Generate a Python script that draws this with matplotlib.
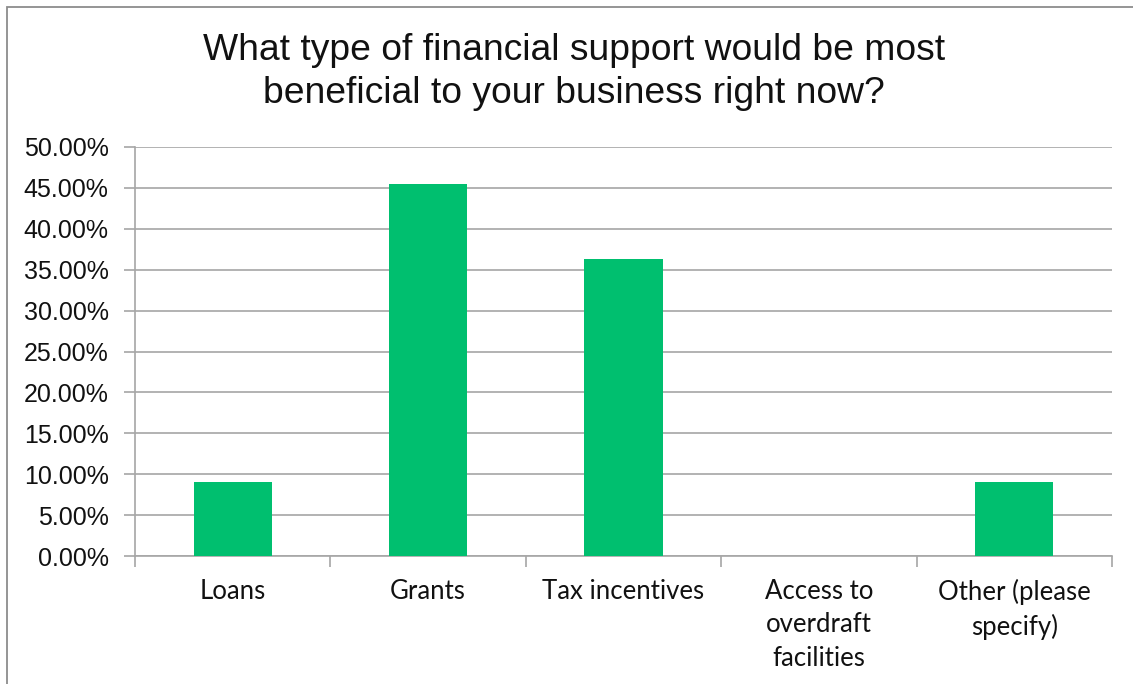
import matplotlib
matplotlib.use("Agg")
import matplotlib.pyplot as plt
from matplotlib.ticker import PercentFormatter, FixedLocator
from matplotlib.patches import Rectangle

categories = ["Loans", "Grants", "Tax incentives",
              "Access to\noverdraft\nfacilities", "Other (please\nspecify)"]
shares = [9.09, 45.45, 36.36, 0.0, 9.09]
y_ticks = [0, 5, 10, 15, 20, 25, 30, 35, 40, 45, 50]
title = "What type of financial support would be most\nbeneficial to your business right now?"

bar_color = "#00BF6F"
grid_color = "#A6A6A6"

fig = plt.figure(figsize=(11.33, 6.84), dpi=100)
ax = fig.add_axes([135 / 1133, 1 - 556 / 684, (1112 - 135) / 1133, (556 - 147) / 684])

x = range(len(categories))
ax.bar(x, shares, width=0.4, color=bar_color, zorder=3)

ax.set_xlim(-0.5, len(categories) - 0.5)
ax.set_ylim(0, 50)
ax.yaxis.set_major_locator(FixedLocator(y_ticks))
ax.yaxis.set_major_formatter(PercentFormatter(decimals=2))
ax.grid(axis="y", color=grid_color, linewidth=1.2, zorder=0)

for side in ("top", "right"):
    ax.spines[side].set_visible(False)
for side in ("left", "bottom"):
    ax.spines[side].set_color(grid_color)
    ax.spines[side].set_linewidth(1.2)

ax.tick_params(axis="y", length=8, width=1.2, color=grid_color, pad=11,
               labelsize=18, labelcolor="#111111")
for lbl in ax.get_yticklabels():
    lbl.set_fontfamily("Liberation Sans")

# category labels sit between boundary tick marks
ax.set_xticks([i - 0.5 for i in range(len(categories) + 1)])
ax.set_xticklabels([])
ax.tick_params(axis="x", length=8, width=1.2, color=grid_color)
for i, name in enumerate(categories):
    ax.text(i, -2.8, name, ha="center", va="top", fontsize=18.5,
            family="Lato", color="#111111", linespacing=1.42,
            transform=ax.transData)

fig.text(574 / 1133, 1 - 72 / 684, title, ha="center", va="center",
         fontsize=26.8, family="Liberation Sans", color="#111111", linespacing=1.32)

# chart frame
fig.patches.append(Rectangle((7 / 1133, -0.1), 1.2, 1 - 7 / 684 + 0.1,
                             transform=fig.transFigure, fill=False,
                             edgecolor="#8C8C8C", linewidth=1.3))

fig.savefig("out.png", dpi=100)
